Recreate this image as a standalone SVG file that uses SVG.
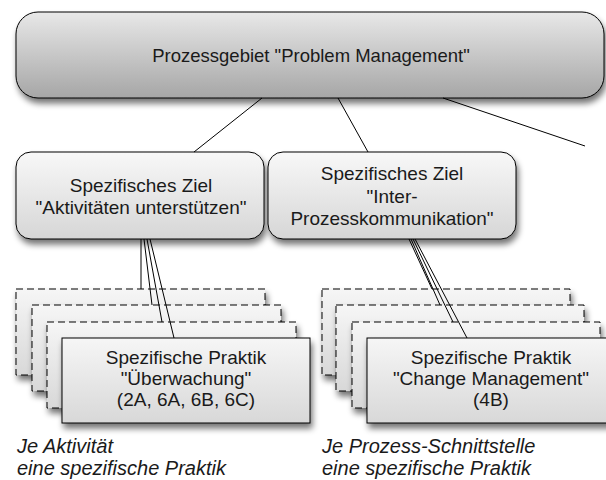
<svg xmlns="http://www.w3.org/2000/svg" width="606" height="480" viewBox="0 0 606 480">
<defs>
  <linearGradient id="gTop" x1="0" y1="0" x2="0" y2="1">
    <stop offset="0" stop-color="#e8e8e8"/>
    <stop offset="1" stop-color="#a6a6a6"/>
  </linearGradient>
  <linearGradient id="gGoal" x1="0" y1="0" x2="0" y2="1">
    <stop offset="0" stop-color="#f8f8f8"/>
    <stop offset="1" stop-color="#d6d6d6"/>
  </linearGradient>
  <linearGradient id="gPrac" x1="0" y1="0" x2="0" y2="1">
    <stop offset="0" stop-color="#f6f6f6"/>
    <stop offset="1" stop-color="#d8d8d8"/>
  </linearGradient>
  <filter id="sh" x="-10%" y="-20%" width="130%" height="150%">
    <feGaussianBlur in="SourceAlpha" stdDeviation="3"/>
    <feOffset dx="2" dy="5" result="b"/>
    <feComponentTransfer><feFuncA type="linear" slope="0.55"/></feComponentTransfer>
    <feMerge><feMergeNode/><feMergeNode in="SourceGraphic"/></feMerge>
  </filter>
</defs>
<style>
  .box { stroke: #000; stroke-width: 1; filter: url(#sh); }
  .dash { fill: url(#gPrac); stroke: #000; stroke-width: 1; stroke-dasharray: 7 4; filter: url(#sh); }
  .front { fill: url(#gPrac); stroke: #000; stroke-width: 1; filter: url(#sh); }
  .t { font-family: "Liberation Sans", Arial, sans-serif; font-size: 19px; fill: #1a1a1a; text-anchor: middle; }
  .cap { font-family: "Liberation Sans", Arial, sans-serif; font-size: 20px; font-style: italic; fill: #1a1a1a; }
  .con { stroke: #000; stroke-width: 1; fill: none; }
</style>

<g id="top">
  <rect class="box" x="16" y="12" width="588" height="86" rx="22" ry="22" fill="url(#gTop)"/>
  <text class="t" x="311" y="62" style="font-size:18.5px">Prozessgebiet "Problem Management"</text>
</g>

<g id="goal1">
  <rect class="box" x="16" y="152" width="248" height="87" rx="15" ry="15" fill="url(#gGoal)"/>
  <text class="t" x="141" y="192">Spezifisches Ziel</text>
  <text class="t" x="141" y="214">"Aktivitäten unterstützen"</text>
</g>

<g id="goal2">
  <rect class="box" x="268" y="152" width="248" height="87" rx="15" ry="15" fill="url(#gGoal)"/>
  <text class="t" x="392" y="180">Spezifisches Ziel</text>
  <text class="t" x="392" y="203">"Inter-</text>
  <text class="t" x="392" y="225">Prozesskommunikation"</text>
</g>

<g id="practices1">
  <rect class="dash" x="16" y="289" width="249" height="86"/>
  <rect class="dash" x="32" y="305" width="249" height="86"/>
  <rect class="dash" x="47" y="322" width="249" height="86"/>
  <rect class="front" x="62" y="338" width="248" height="85"/>
  <text class="t" x="186" y="364">Spezifische Praktik</text>
  <text class="t" x="186" y="385">"Überwachung"</text>
  <text class="t" x="186" y="406">(2A, 6A, 6B, 6C)</text>
</g>

<g id="practices2">
  <rect class="dash" x="322" y="289" width="248" height="86"/>
  <rect class="dash" x="336" y="305" width="248" height="86"/>
  <rect class="dash" x="352" y="322" width="248" height="86"/>
  <rect class="front" x="367" y="338" width="248" height="85"/>
  <text class="t" x="491" y="364">Spezifische Praktik</text>
  <text class="t" x="491" y="385">"Change Management"</text>
  <text class="t" x="491" y="406">(4B)</text>
</g>

<g id="caption1">
  <text class="cap" x="17" y="453">Je Aktivität</text>
  <text class="cap" x="17" y="475">eine spezifische Praktik</text>
</g>
<g id="caption2">
  <text class="cap" x="322" y="453">Je Prozess-Schnittstelle</text>
  <text class="cap" x="322" y="475">eine spezifische Praktik</text>
</g>

<g id="connectors">
  <line class="con" x1="262" y1="98" x2="194" y2="152"/>
  <line class="con" x1="338" y1="98" x2="368" y2="152"/>
  <line class="con" x1="443" y1="98" x2="585" y2="146"/>
  <line class="con" x1="141" y1="239" x2="141" y2="289"/>
  <line class="con" x1="144" y1="239" x2="152" y2="305"/>
  <line class="con" x1="147" y1="239" x2="162" y2="322"/>
  <line class="con" x1="150" y1="239" x2="174" y2="338"/>
  <line class="con" x1="409" y1="239" x2="432" y2="289"/>
  <line class="con" x1="411" y1="239" x2="440" y2="305"/>
  <line class="con" x1="413" y1="239" x2="453" y2="322"/>
  <line class="con" x1="415" y1="239" x2="467" y2="338"/>
</g>
</svg>
